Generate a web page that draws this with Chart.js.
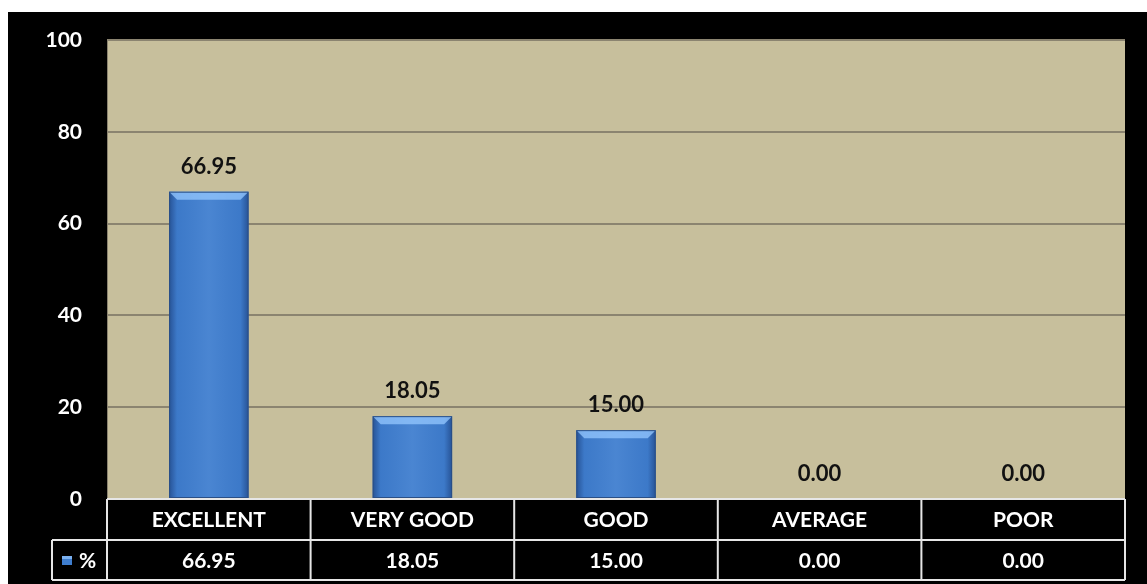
<!DOCTYPE html>
<html>
<head>
<meta charset="utf-8">
<script src="https://cdn.jsdelivr.net/npm/chart.js@4/dist/chart.umd.min.js"></script>
<style>
    body { margin: 0; background: #fff; width: 1147px; height: 584px; overflow: hidden; }
    #wrap { position: absolute; left: 8px; top: 12px; width: 1139px; height: 572px; background: #000; }
</style>
</head>
<body>
<div id="wrap"><canvas id="chart" width="1139" height="572"></canvas></div>
<script>
const categories = ['EXCELLENT', 'VERY GOOD', 'GOOD', 'AVERAGE', 'POOR']
const percentValues = [66.95, 18.05, 15.00, 0.00, 0.00]
const seriesName = '%'
const yTicks = [0, 20, 40, 60, 80, 100]

const FONT = 'Lato, "Open Sans", sans-serif'
const PLOT_BG = '#c7bf9c'
const GRID = '#8b8470'
const LINE = '#e6e6e6'
const BAR = '#3f7ecf'

// khaki plot area + black back
const backPlugin = {
    id: 'back',
    beforeDraw(chart){
        const {ctx, chartArea: a} = chart
        ctx.save()
        ctx.fillStyle = '#000'
        ctx.fillRect(0, 0, chart.width, chart.height)
        ctx.fillStyle = PLOT_BG
        ctx.fillRect(a.left, a.top, a.right - a.left, a.bottom - a.top)
        ctx.restore()
    },
    afterDraw(chart){
        const {ctx, chartArea: a} = chart
        ctx.save()
        ctx.strokeStyle = GRID
        ctx.lineWidth = 1
        ctx.beginPath()
        ctx.moveTo(a.left + 0.5, a.bottom)
        ctx.lineTo(a.left + 0.5, a.top + 0.5)
        ctx.lineTo(a.right, a.top + 0.5)
        ctx.stroke()
        ctx.restore()
    }
}

// bevel look on the bars
const bevelPlugin = {
    id: 'bevel',
    afterDatasetsDraw(chart){
        const {ctx} = chart
        const meta = chart.getDatasetMeta(0)
        ctx.save()
        meta.data.forEach((bar, i) => {
            const h = bar.base - bar.y
            if (h < 2) return
            const l = bar.x - bar.width / 2
            const r = bar.x + bar.width / 2
            let g = ctx.createLinearGradient(l, 0, r, 0)
            g.addColorStop(0, 'rgba(10,30,80,0.45)')
            g.addColorStop(0.1, 'rgba(10,30,80,0.05)')
            g.addColorStop(0.5, 'rgba(255,255,255,0.06)')
            g.addColorStop(0.9, 'rgba(10,30,80,0.05)')
            g.addColorStop(1, 'rgba(10,30,80,0.45)')
            ctx.fillStyle = g
            ctx.fillRect(l, bar.y, bar.width, h)
            // top highlight
            const bh = Math.min(8, h / 2)
            ctx.fillStyle = 'rgba(150,200,255,0.75)'
            ctx.beginPath()
            ctx.moveTo(l, bar.y)
            ctx.lineTo(r, bar.y)
            ctx.lineTo(r - bh, bar.y + bh)
            ctx.lineTo(l + bh, bar.y + bh)
            ctx.closePath()
            ctx.fill()
            ctx.strokeStyle = '#2a4f86'
            ctx.lineWidth = 1
            ctx.strokeRect(l + 0.5, bar.y + 0.5, bar.width - 1, h - 1)
        })
        ctx.restore()
    }
}

// value labels above bars + data table under the axis
const tablePlugin = {
    id: 'table',
    afterDraw(chart){
        const {ctx, chartArea: a} = chart
        const xs = chart.scales.x
        const meta = chart.getDatasetMeta(0)
        const colW = (a.right - a.left) / categories.length
        const rowTop = a.bottom
        const rowMid = a.bottom + 41
        const rowBot = a.bottom + 81
        const legL = 44

        ctx.save()
        ctx.font = `bold 22px ${FONT}`
        ctx.textAlign = 'center'
        ctx.textBaseline = 'bottom'
        ctx.fillStyle = '#111'
        meta.data.forEach((bar, i) => {
            ctx.fillText(percentValues[i].toFixed(2), bar.x, bar.y - 14)
        })

        ctx.strokeStyle = LINE
        ctx.lineWidth = 2
        ctx.beginPath()
        ctx.moveTo(a.left, rowTop); ctx.lineTo(a.right, rowTop)
        ctx.moveTo(legL, rowMid); ctx.lineTo(a.right, rowMid)
        ctx.moveTo(legL, rowBot); ctx.lineTo(a.right, rowBot)
        ctx.moveTo(legL, rowMid); ctx.lineTo(legL, rowBot)
        for (let i = 0; i <= categories.length; i++) {
            let x = a.left + i * colW
            ctx.moveTo(x, rowTop); ctx.lineTo(x, rowBot)
        }
        ctx.stroke()

        ctx.fillStyle = '#fff'
        ctx.font = `bold 21px ${FONT}`
        ctx.textBaseline = 'middle'
        percentValues.forEach((v, i) => {
            ctx.fillText(v.toFixed(2), xs.getPixelForValue(i), (rowMid + rowBot) / 2 + 1)
        })

        // legend key
        ctx.fillStyle = BAR
        ctx.fillRect(54, (rowMid + rowBot) / 2 - 4, 10, 9)
        ctx.fillStyle = 'rgba(150,200,255,0.7)'
        ctx.fillRect(54, (rowMid + rowBot) / 2 - 4, 10, 3)
        ctx.fillStyle = '#fff'
        ctx.textAlign = 'left'
        ctx.fillText(seriesName, 71, (rowMid + rowBot) / 2 + 1)
        ctx.restore()
    }
}

const ctx = document.getElementById('chart').getContext('2d')
const chart = new Chart(ctx, {
    type: 'bar',
    data: {
        labels: categories,
        datasets: [{
            label: seriesName,
            data: percentValues,
            backgroundColor: BAR,
            borderWidth: 0,
            barPercentage: 0.39,
            categoryPercentage: 1
        }]
    },
    options: {
        responsive: false,
        animation: false,
        devicePixelRatio: 1,
        layout: { padding: { left: 0, right: 22, top: 28, bottom: 0 } },
        plugins: {
            legend: { display: false },
            tooltip: { enabled: false }
        },
        scales: {
            x: {
                grid: { display: false, drawTicks: false },
                border: { display: false },
                ticks: {
                    color: '#fff',
                    padding: 9,
                    font: { family: FONT, size: 21, weight: 'bold' }
                },
                afterFit(scale){
                    scale.height = 85
                    scale.paddingLeft = 0
                    scale.paddingRight = 0
                }
            },
            y: {
                min: 0,
                max: 100,
                afterBuildTicks(scale){ scale.ticks = yTicks.map(v => ({value: v})) },
                grid: { color: GRID, lineWidth: 2, drawTicks: false },
                border: { display: false },
                ticks: {
                    color: '#fff',
                    padding: 25,
                    font: { family: FONT, size: 21, weight: 'bold' }
                },
                afterFit(scale){
                    scale.width = 99
                    scale.paddingTop = 0
                    scale.paddingBottom = 0
                }
            }
        }
    },
    plugins: [backPlugin, bevelPlugin, tablePlugin]
})
</script>
</body>
</html>
